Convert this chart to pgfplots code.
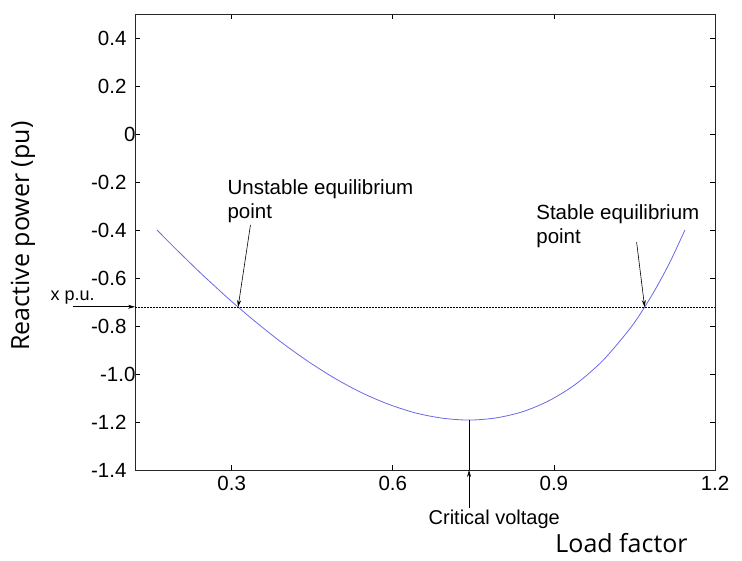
\documentclass[border=0pt]{standalone}
\usepackage{fontspec}
\setmainfont{Liberation Sans}
\newfontfamily\osans{Open Sans}
\usepackage{pgfplots}
\pgfplotsset{compat=1.18}
\usetikzlibrary{arrows.meta}
\definecolor{curveblue}{RGB}{105,105,230}
\begin{document}
\begin{tikzpicture}
\begin{axis}[
  scale only axis,
  width=580pt, height=456pt,
  xmin=0.12, xmax=1.2,
  ymin=-1.4, ymax=0.5,
  clip=false,
  axis line style={line width=0.8pt, black!85},
  tick style={line width=0.6pt, black},
  major tick length=5pt,
  xtick={0.3,0.6,0.9,1.2},
  xticklabels={0.3,0.6,0.9,1.2},
  ytick={-1.4,-1.2,-1.0,-0.8,-0.6,-0.4,-0.2,0,0.2,0.4},
  yticklabels={-1.4,-1.2,{-1.0\hspace*{-9pt}},-0.8,-0.6,-0.4,-0.2,{0\hspace*{-9pt}},0.2,0.4},
  ticklabel style={font=\fontsize{20.5}{24}\selectfont},
  xticklabel style={yshift=-3pt},
  yticklabel style={xshift=-5pt},
  ylabel={\osans Reactive power (pu)},
  ylabel style={font=\fontsize{25}{30}\selectfont, at={(axis description cs:-0.193,0.513)}, anchor=center},
]
\addplot[curveblue, line width=0.8pt, smooth] table {
x y
0.161 -0.400
0.192 -0.470
0.242 -0.579
0.292 -0.682
0.312 -0.721
0.342 -0.778
0.392 -0.867
0.442 -0.947
0.492 -1.018
0.542 -1.078
0.592 -1.126
0.642 -1.162
0.692 -1.184
0.742 -1.192
0.792 -1.183
0.842 -1.157
0.892 -1.110
0.942 -1.040
0.992 -0.942
1.042 -0.810
1.069 -0.721
1.092 -0.635
1.117 -0.530
1.144 -0.400
};
% reference level
\draw[black, line width=0.5pt, dash pattern=on 2pt off 1pt] (axis cs:0.12,-0.72) -- (axis cs:1.2,-0.72);
\draw[black, line width=0.6pt, -{Stealth[length=7pt,width=4pt]}] (axis cs:0.004,-0.72) -- (axis cs:0.12,-0.72);
\node[anchor=base, font=\fontsize{18}{22}\selectfont, inner sep=0pt] at (axis cs:0.004,-0.692) {x p.u.};
% unstable
\node[anchor=base west, font=\fontsize{20.5}{24}\selectfont, inner sep=0pt] at (axis cs:0.292,-0.254) {Unstable equilibrium};
\node[anchor=base west, font=\fontsize{20.5}{24}\selectfont, inner sep=0pt] at (axis cs:0.292,-0.354) {point};
\draw[black, line width=0.6pt, -{Stealth[length=7pt,width=4pt]}] (axis cs:0.335,-0.379) -- (axis cs:0.312,-0.721);
% stable
\node[anchor=base west, font=\fontsize{20.5}{24}\selectfont, inner sep=0pt] at (axis cs:0.867,-0.358) {Stable equilibrium};
\node[anchor=base west, font=\fontsize{20.5}{24}\selectfont, inner sep=0pt] at (axis cs:0.867,-0.458) {point};
\draw[black, line width=0.6pt, -{Stealth[length=7pt,width=4pt]}] (axis cs:1.054,-0.45) -- (axis cs:1.069,-0.721);
% critical voltage
\draw[black, line width=0.6pt] (axis cs:0.742,-1.4) -- (axis cs:0.742,-1.192);
\draw[black, line width=0.6pt, -{Stealth[length=7pt,width=4pt]}] (axis cs:0.742,-1.56) -- (axis cs:0.742,-1.4);
\node[anchor=base, font=\fontsize{20}{24}\selectfont, inner sep=0pt] at (axis cs:0.789,-1.629) {Critical voltage};
\node[anchor=base, font=\osans\fontsize{25}{30}\selectfont, inner sep=0pt] at (axis cs:1.026,-1.745) {Load factor};
\end{axis}
\path (current axis.south west) ++(-135pt,-91pt) rectangle ++(742pt,561pt);
\end{tikzpicture}
\end{document}
